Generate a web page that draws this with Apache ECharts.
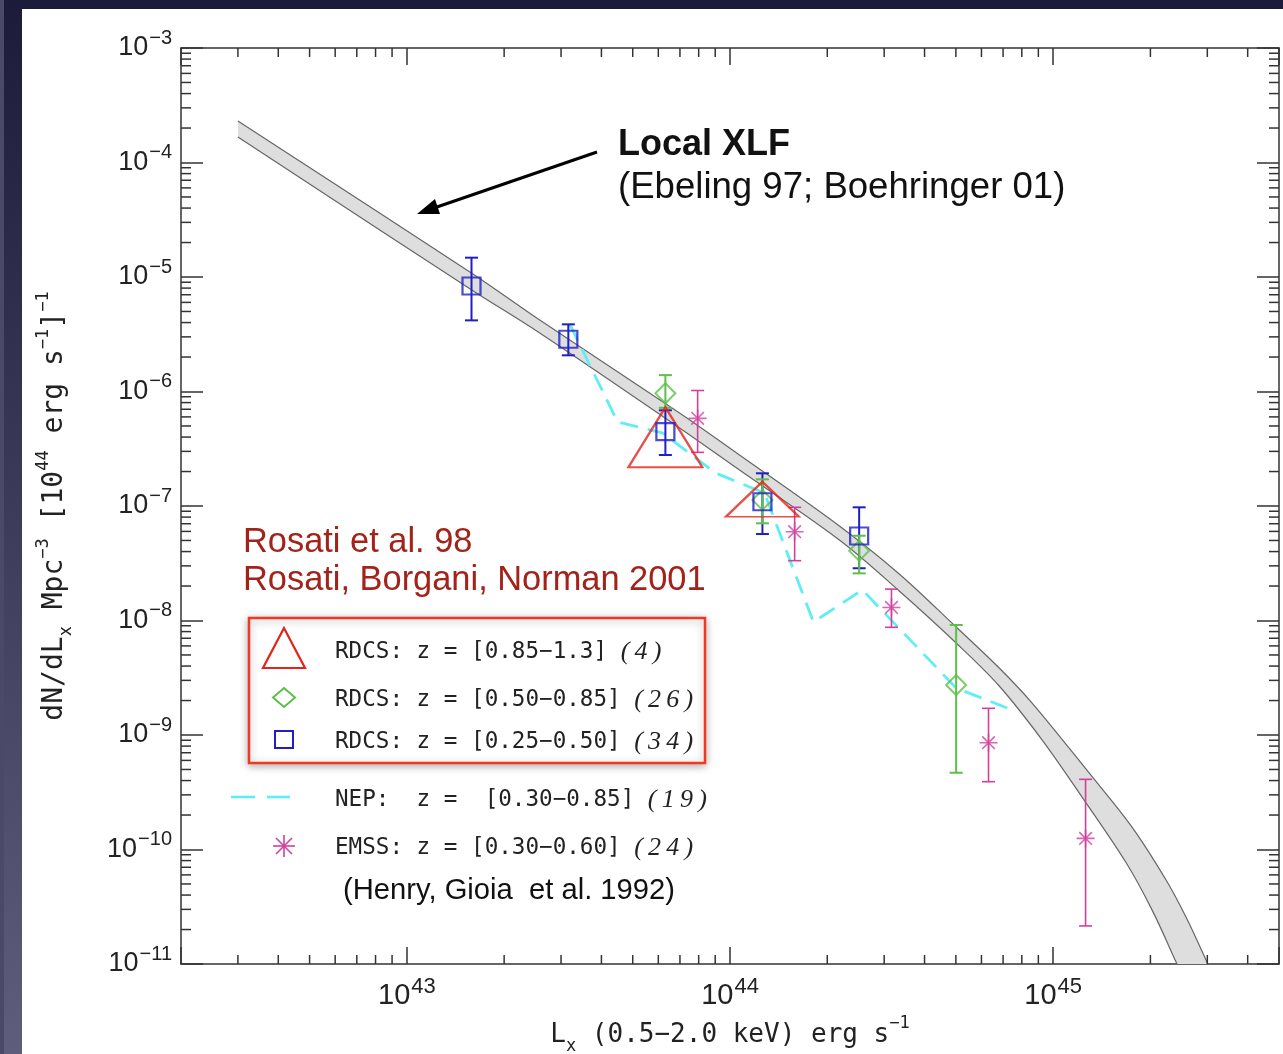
<!DOCTYPE html>
<html>
<head>
<meta charset="utf-8">
<title>Cluster XLF</title>
<script src="https://cdn.jsdelivr.net/npm/echarts@6/dist/echarts.min.js"></script>
<style>
html, body { margin: 0; padding: 0; background: #fff; }
#frameTop { position: absolute; left: 0; top: 0; width: 1283px; height: 9px; background: #1c1c3a; }
#frameLeft { position: absolute; left: 0; top: 0; width: 22px; height: 1054px; background: linear-gradient(#1c1c3a, #5e5e7c); border-left: 4px solid #4a4a68; box-sizing: border-box; }
#chartmain { position: absolute; left: 0; top: 0; width: 1283px; height: 1054px; }
</style>
</head>
<body>
<div id="frameTop"></div>
<div id="frameLeft"></div>
<div id="chartmain"></div>
<script>
var xMin = 2e42, xMax = 5e45, yMin = 1e-11, yMax = 1e-3;

// RDCS z = [0.85-1.3]
var rdcsHiX = [6.31e43, 1.26e44];
var rdcsHiY = [3.98e-7, 1.146e-7];
// RDCS z = [0.50-0.85]
var rdcsMidX = [6.31e43, 1.26e44, 2.51e44, 5.01e44];
var rdcsMidY = [9.65e-7, 1.13e-7, 4.07e-8, 2.73e-9];
var rdcsMidLo = [7.2e-7, 7.06e-8, 2.58e-8, 4.68e-10];
var rdcsMidHi = [1.39e-6, 1.71e-7, 5.5e-8, 9.14e-9];
// RDCS z = [0.25-0.50]
var rdcsLowX = [1.585e43, 3.16e43, 6.31e43, 1.26e44, 2.51e44];
var rdcsLowY = [8.34e-6, 2.86e-6, 4.46e-7, 1.09e-7, 5.47e-8];
var rdcsLowLo = [4.18e-6, 2.07e-6, 2.79e-7, 5.69e-8, 2.86e-8];
var rdcsLowHi = [1.475e-5, 3.86e-6, 6.85e-7, 1.93e-7, 9.74e-8];
// NEP z = [0.30-0.85]
var nepX = [3.19e43, 4.49e43, 6.19e43, 9.02e43, 1.278e44, 1.812e44, 2.568e44, 5.01e44, 7.21e44];
var nepY = [3.89e-6, 5.42e-7, 4.34e-7, 1.94e-7, 1.30e-7, 9.7e-9, 1.85e-8, 2.57e-9, 1.72e-9];
// EMSS z = [0.30-0.60]
var emssX = [7.94e43, 1.585e44, 3.16e44, 6.31e44, 1.26e45];
var emssY = [5.83e-7, 5.96e-8, 1.30e-8, 8.56e-10, 1.25e-10];
var emssLo = [2.94e-7, 3.33e-8, 8.72e-9, 3.91e-10, 2.15e-11];
var emssHi = [1.02e-6, 9.74e-8, 1.88e-8, 1.71e-9, 4.1e-10];
// local XLF band (upper and lower edges)
var xlfUpX = [3.0e42, 1.588e43, 2.577e43, 6.98e43, 1.07e44, 2.18e44, 3.34e44, 5.01e44, 6.81e44, 8.61e44, 1.292e45, 1.754e45, 2.236e45, 2.577e45, 2.992e45, 3.147e45];
var xlfUpY = [2.30e-4, 1.08e-5, 4.21e-6, 6.49e-7, 2.79e-7, 6.69e-8, 2.55e-8, 8.77e-9, 3.85e-9, 1.90e-9, 4.66e-10, 1.57e-10, 5.42e-11, 2.57e-11, 1.04e-11, 7.54e-12];
var xlfLoX = [3.0e42, 1.588e43, 2.577e43, 6.98e43, 1.07e44, 2.18e44, 3.34e44, 5.01e44, 6.81e44, 9.25e44, 1.229e45, 1.681e45, 2.023e45, 2.401e45, 2.523e45];
var xlfLoY = [1.67e-4, 7.70e-6, 3.24e-6, 4.80e-7, 2.06e-7, 5.05e-8, 1.81e-8, 6.36e-9, 2.68e-9, 9.04e-10, 2.87e-10, 7.7e-11, 2.97e-11, 1.04e-11, 7.54e-12];

var triSizes = [[74, 60], [73, 35]];

var mono = '"DejaVu Sans Mono", monospace';
var sans = '"Liberation Sans", Arial, sans-serif';
var serif = '"Liberation Serif", "Times New Roman", serif';
var cRed = '#e4231c', cGreen = '#5cbf48', cBlue = '#1f1fc4', cMag = '#d0409c', cCyan = '#5eeef4';
var axisCol = '#333';

function minorValues(e0, e1, lo, hi) {
    var out = [];
    for (var e = e0; e <= e1; e++) {
        for (var m = 2; m <= 9; m++) {
            var v = m * Math.pow(10, e);
            if (v > lo * 1.0001 && v < hi * 0.9999) out.push(v);
        }
    }
    return out;
}
var xMinor = minorValues(42, 45, xMin, xMax);
var yMinor = minorValues(-11, -4, yMin, yMax);

function powerLabel(value) {
    var e = Math.log10(value);
    var r = Math.round(e);
    if (Math.abs(e - r) > 1e-6) return '';
    return '{b|10}{s|' + String(r).replace('-', '\u2212') + '}';
}
function labelRich(big, small) {
    return {
        b: { fontFamily: sans, fontSize: big, lineHeight: 40, color: '#222' },
        s: { fontFamily: sans, fontSize: small, lineHeight: small, verticalAlign: 'top', padding: [0, 0, 0, 1], color: '#222' }
    };
}
function nameRich(size) {
    return {
        m: { fontFamily: mono, fontSize: size, lineHeight: 40, color: '#222' },
        sup: { fontFamily: mono, fontSize: 17, lineHeight: 17, verticalAlign: 'top', color: '#222' },
        sub: { fontFamily: mono, fontSize: 17, lineHeight: 24, verticalAlign: 'bottom', color: '#222' }
    };
}

function logAxis(pos, min, max, tickLen, withLabel, margin, big, small) {
    return {
        type: 'log', logBase: 10, min: min, max: max, position: pos,
        axisLine: { show: true, onZero: false, lineStyle: { color: axisCol, width: 1.5 } },
        axisTick: { show: true, inside: true, length: tickLen, lineStyle: { color: axisCol, width: 1.5 } },
        axisLabel: { show: withLabel, margin: margin || 9, fontSize: big || 27, fontFamily: sans, color: '#222',
            formatter: powerLabel, rich: labelRich(big || 27, small || 20) },
        splitLine: { show: false },
        minorTick: { show: false }
    };
}

function errorBars(xs, lows, highs, color, width) {
    return {
        type: 'custom', silent: true, z: 3,
        data: xs.map(function (x, i) { return [x, lows[i], highs[i]]; }),
        encode: { x: 0, y: [1, 2] },
        renderItem: function (params, api) {
            var lo = api.coord([api.value(0), api.value(1)]);
            var hi = api.coord([api.value(0), api.value(2)]);
            var cap = 6.5;
            var st = { stroke: color, lineWidth: width };
            return {
                type: 'group', children: [
                    { type: 'line', shape: { x1: lo[0], y1: lo[1], x2: hi[0], y2: hi[1] }, style: st },
                    { type: 'line', shape: { x1: lo[0] - cap, y1: lo[1], x2: lo[0] + cap, y2: lo[1] }, style: st },
                    { type: 'line', shape: { x1: hi[0] - cap, y1: hi[1], x2: hi[0] + cap, y2: hi[1] }, style: st }
                ]
            };
        }
    };
}

function pairs(xs, ys) {
    return xs.map(function (x, i) { return [x, ys[i]]; });
}

var asteriskPath = 'path://M10,0L10,20M0,10L20,10M3,3L17,17M3,17L17,3';
var legendRich = { i: { fontFamily: serif, fontStyle: 'italic', fontSize: 26, fill: '#222' } };

var chart = echarts.init(document.getElementById('chartmain'), null, { renderer: 'canvas', width: 1283, height: 1054 });

var option = {
    animation: false,
    backgroundColor: 'transparent',
    grid: { left: 181, top: 48, width: 1098, height: 916, containLabel: false, outerBoundsMode: 'none' },
    xAxis: [
        Object.assign(logAxis('bottom', xMin, xMax, 17, true, 12, 29, 22), {
            name: '{m|L}{sub|x}{m| (0.5\u22122.0 keV) erg s}{sup|\u22121}',
            nameLocation: 'middle', nameGap: 46,
            nameTextStyle: { fontFamily: mono, fontSize: 26, color: '#222', rich: nameRich(26) }
        }),
        logAxis('top', xMin, xMax, 17, false)
    ],
    yAxis: [
        Object.assign(logAxis('left', yMin, yMax, 22, true, 9, 27, 20), {
            name: '{m|dN/dL}{sub|x}{m| Mpc}{sup|\u22123}{m| [10}{sup|44}{m| erg s}{sup|\u22121}{m|]}{sup|\u22121}',
            nameLocation: 'middle', nameGap: 106, nameRotate: 90,
            nameTextStyle: { fontFamily: mono, fontSize: 28, color: '#222', rich: nameRich(28) }
        }),
        logAxis('right', yMin, yMax, 22, false)
    ],
    graphic: [
        // arrow to the local XLF band
        { type: 'line', shape: { x1: 597, y1: 152, x2: 434, y2: 208 }, style: { stroke: '#000', lineWidth: 3 } },
        { type: 'polygon', shape: { points: [[417, 214], [440, 214], [435, 199]] }, style: { fill: '#000' } },
        { type: 'text', style: { text: 'Local XLF', x: 618, y: 145, fontFamily: sans, fontSize: 36, fontWeight: 'bold', fill: '#111', textVerticalAlign: 'middle' } },
        { type: 'text', style: { text: '(Ebeling 97; Boehringer 01)', x: 618, y: 188, fontFamily: sans, fontSize: 36.6, fill: '#111', textVerticalAlign: 'middle' } },
        { type: 'text', style: { text: 'Rosati et al. 98', x: 243, y: 543, fontFamily: sans, fontSize: 34.4, fill: '#a3221a', textVerticalAlign: 'middle' } },
        { type: 'text', style: { text: 'Rosati, Borgani, Norman 2001', x: 243, y: 581, fontFamily: sans, fontSize: 34.4, fill: '#a3221a', textVerticalAlign: 'middle' } },
        // legend box
        { type: 'rect', shape: { x: 249, y: 618, width: 456, height: 145 }, style: { fill: '#fff', stroke: '#f2381f', lineWidth: 2.5, shadowBlur: 8, shadowColor: 'rgba(0,0,0,0.3)', shadowOffsetY: 2 } },
        { type: 'polygon', shape: { points: [[284, 628], [263, 668], [305, 668]] }, style: { fill: 'none', stroke: cRed, lineWidth: 2.2 } },
        { type: 'polygon', shape: { points: [[284, 688], [295, 697.5], [284, 707], [273, 697.5]] }, style: { fill: 'none', stroke: cGreen, lineWidth: 2 } },
        { type: 'rect', shape: { x: 275, y: 731, width: 18, height: 17 }, style: { fill: 'none', stroke: cBlue, lineWidth: 2 } },
        { type: 'line', shape: { x1: 231, y1: 797, x2: 255, y2: 797 }, style: { stroke: cCyan, lineWidth: 2.6 } },
        { type: 'line', shape: { x1: 267, y1: 797, x2: 290, y2: 797 }, style: { stroke: cCyan, lineWidth: 2.6 } },
        { type: 'line', shape: { x1: 284, y1: 835, x2: 284, y2: 857 }, style: { stroke: cMag, lineWidth: 1.6 } },
        { type: 'line', shape: { x1: 273, y1: 846, x2: 295, y2: 846 }, style: { stroke: cMag, lineWidth: 1.6 } },
        { type: 'line', shape: { x1: 276, y1: 838, x2: 292, y2: 854 }, style: { stroke: cMag, lineWidth: 1.6 } },
        { type: 'line', shape: { x1: 276, y1: 854, x2: 292, y2: 838 }, style: { stroke: cMag, lineWidth: 1.6 } },
        { type: 'text', style: { text: 'RDCS: z = [0.85\u22121.3] {i|(\u20094\u2009)}', x: 335, y: 652, fontFamily: mono, fontSize: 22.6, fill: '#222', textVerticalAlign: 'middle', rich: legendRich } },
        { type: 'text', style: { text: 'RDCS: z = [0.50\u22120.85] {i|(\u20092\u20096\u2009)}', x: 335, y: 700, fontFamily: mono, fontSize: 22.6, fill: '#222', textVerticalAlign: 'middle', rich: legendRich } },
        { type: 'text', style: { text: 'RDCS: z = [0.25\u22120.50] {i|(\u20093\u20094\u2009)}', x: 335, y: 742, fontFamily: mono, fontSize: 22.6, fill: '#222', textVerticalAlign: 'middle', rich: legendRich } },
        { type: 'text', style: { text: 'NEP:  z =  [0.30\u22120.85] {i|(\u20091\u20099\u2009)}', x: 335, y: 800, fontFamily: mono, fontSize: 22.6, fill: '#222', textVerticalAlign: 'middle', rich: legendRich } },
        { type: 'text', style: { text: 'EMSS: z = [0.30\u22120.60] {i|(\u20092\u20094\u2009)}', x: 335, y: 848, fontFamily: mono, fontSize: 22.6, fill: '#222', textVerticalAlign: 'middle', rich: legendRich } },
        { type: 'text', style: { text: '(Henry, Gioia  et al. 1992)', x: 343, y: 891, fontFamily: sans, fontSize: 29.2, fill: '#111', textVerticalAlign: 'middle' } }
    ],
    series: [
        {
            // local XLF band
            type: 'custom', silent: true, clip: true, z: 1,
            data: [[xlfUpX[0], xlfUpY[0]]],
            renderItem: function (params, api) {
                var up = xlfUpX.map(function (x, i) { return api.coord([x, xlfUpY[i]]); });
                var lo = xlfLoX.map(function (x, i) { return api.coord([x, xlfLoY[i]]); });
                var loRev = lo.slice().reverse();
                // repeat the left-end corners so the smoothed outline keeps them sharp
                var poly = [up[0]].concat(up, loRev, [loRev[loRev.length - 1]]);
                return {
                    type: 'group', children: [
                        { type: 'polygon', shape: { points: poly, smooth: 0.35 }, style: { fill: '#dedede', stroke: null } },
                        { type: 'polyline', shape: { points: up, smooth: 0.35 }, style: { fill: null, stroke: '#666', lineWidth: 1.2 } },
                        { type: 'polyline', shape: { points: lo, smooth: 0.35 }, style: { fill: null, stroke: '#666', lineWidth: 1.2 } }
                    ]
                };
            }
        },
        {
            type: 'line', name: 'NEP', silent: true, z: 2,
            data: pairs(nepX, nepY),
            showSymbol: false, symbol: 'none',
            lineStyle: { color: cCyan, width: 2.8, type: [18, 10] }
        },
        errorBars(rdcsLowX, rdcsLowLo, rdcsLowHi, cBlue, 2),
        errorBars(rdcsMidX, rdcsMidLo, rdcsMidHi, cGreen, 2),
        errorBars(emssX, emssLo, emssHi, cMag, 1.6),
        {
            type: 'scatter', name: 'RDCS 0.85-1.3', silent: true, z: 4,
            symbol: 'triangle',
            data: rdcsHiX.map(function (x, i) { return { value: [x, rdcsHiY[i]], symbolSize: triSizes[i] }; }),
            itemStyle: { color: 'rgba(0,0,0,0)', borderColor: cRed, borderWidth: 2.2 }
        },
        {
            type: 'scatter', name: 'RDCS 0.50-0.85', silent: true, z: 4,
            symbol: 'diamond', symbolSize: [20, 20],
            data: pairs(rdcsMidX, rdcsMidY),
            itemStyle: { color: 'rgba(0,0,0,0)', borderColor: cGreen, borderWidth: 2 }
        },
        {
            type: 'scatter', name: 'RDCS 0.25-0.50', silent: true, z: 4,
            symbol: 'rect', symbolSize: [18, 17],
            data: pairs(rdcsLowX, rdcsLowY),
            itemStyle: { color: 'rgba(0,0,0,0)', borderColor: cBlue, borderWidth: 2.2 }
        },
        {
            type: 'scatter', name: 'EMSS', silent: true, z: 4,
            symbol: asteriskPath, symbolSize: [18, 18],
            data: pairs(emssX, emssY),
            itemStyle: { color: 'rgba(0,0,0,0)', borderColor: cMag, borderWidth: 1.6 }
        },
        {
            // minor ticks on bottom and top axes
            type: 'custom', silent: true, z: 5,
            data: xMinor.map(function (v) { return [v, yMin]; }),
            renderItem: function (params, api) {
                var b = api.coord([api.value(0), yMin]);
                var t = api.coord([api.value(0), yMax]);
                var st = { stroke: axisCol, lineWidth: 1.5 };
                return {
                    type: 'group', children: [
                        { type: 'line', shape: { x1: b[0], y1: b[1], x2: b[0], y2: b[1] - 9 }, style: st },
                        { type: 'line', shape: { x1: t[0], y1: t[1], x2: t[0], y2: t[1] + 9 }, style: st }
                    ]
                };
            }
        },
        {
            // minor ticks on left and right axes
            type: 'custom', silent: true, z: 5,
            data: yMinor.map(function (v) { return [xMin, v]; }),
            renderItem: function (params, api) {
                var l = api.coord([xMin, api.value(1)]);
                var r = api.coord([xMax, api.value(1)]);
                var st = { stroke: axisCol, lineWidth: 1.5 };
                return {
                    type: 'group', children: [
                        { type: 'line', shape: { x1: l[0], y1: l[1], x2: l[0] + 10, y2: l[1] }, style: st },
                        { type: 'line', shape: { x1: r[0], y1: r[1], x2: r[0] - 10, y2: r[1] }, style: st }
                    ]
                };
            }
        }
    ]
};

chart.setOption(option);
</script>
</body>
</html>
